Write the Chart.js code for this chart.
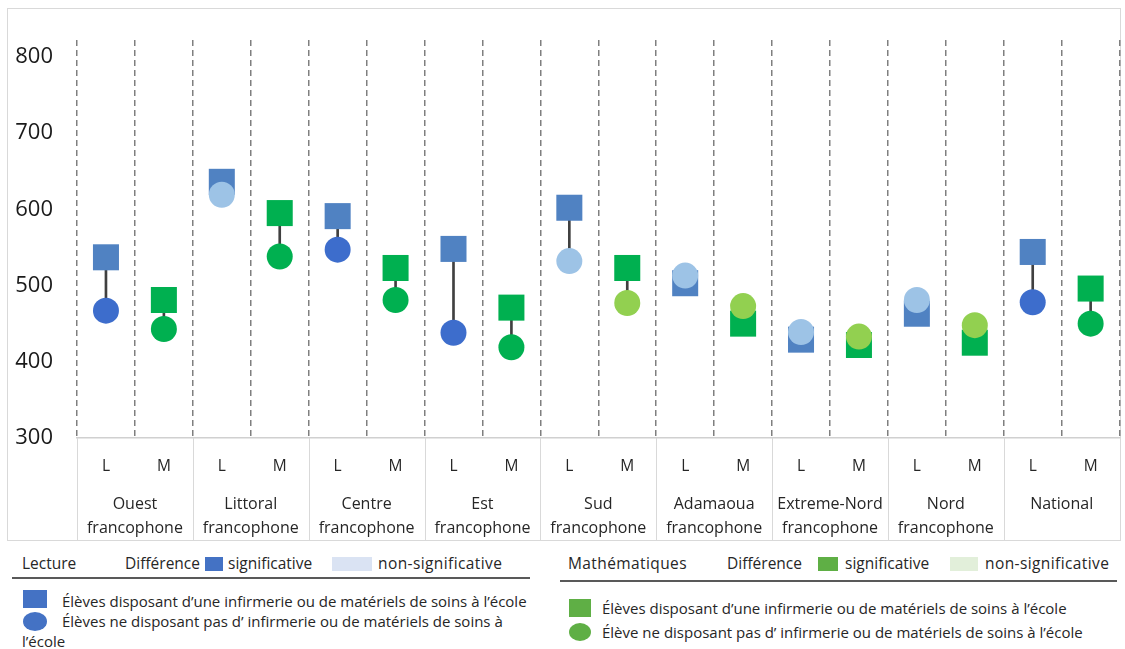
<!DOCTYPE html>
<html>
<head>
<meta charset="utf-8">
<script src="https://cdn.jsdelivr.net/npm/chart.js@4/dist/chart.umd.min.js"></script>
<style>
  html, body { margin: 0; padding: 0; background: #fff; }
  body { width: 1125px; height: 649px; position: relative; overflow: hidden; font-family: "Open Sans", sans-serif; color: #262626; }
  #frame { position: absolute; left: 7px; top: 8px; width: 1114px; height: 533px; border: 1px solid #d9d9d9; box-sizing: border-box; }
  #wrap { position: absolute; left: 0; top: 0; width: 1125px; height: 545px; overflow: hidden; }
  .lg { position: absolute; white-space: nowrap; font-size: 15px; line-height: 18px; color: #262626; }
  .h { font-size: 15.5px; top: 554px; }
  .sw { position: absolute; }
  .rule { position: absolute; height: 2px; background: #595959; }
</style>
</head>
<body>
<div id="frame"></div>
<div id="wrap"><canvas id="c" width="1138" height="545"></canvas></div>

<!-- Lecture legend -->
<div class="lg h" style="left:22px;">Lecture</div>
<div class="lg h" style="left:125px;">Différence</div>
<div class="sw" style="left:205px;top:557px;width:18px;height:14px;background:#4472C4;"></div>
<div class="lg h" style="left:228px;">significative</div>
<div class="sw" style="left:332px;top:557px;width:40px;height:14px;background:#DAE3F3;"></div>
<div class="lg h" style="left:378px;letter-spacing:0.4px;">non-significative</div>
<div class="rule" style="left:12px;top:577px;width:518px;"></div>
<div class="sw" style="left:23px;top:590px;width:24px;height:18px;background:#4472C4;"></div>
<div class="lg" style="left:62px;top:592px;">Élèves disposant d’une infirmerie ou de matériels de soins à l’école</div>
<div class="sw" style="left:23px;top:612px;width:24px;height:19px;border-radius:50%;background:#4472C4;"></div>
<div class="lg" style="left:62px;top:612px;">Élèves ne disposant pas d’ infirmerie ou de matériels de soins à</div>
<div class="lg" style="left:22px;top:632px;">l’école</div>

<!-- Mathématiques legend -->
<div class="lg h" style="left:568px;letter-spacing:0.4px;">Mathématiques</div>
<div class="lg h" style="left:727px;">Différence</div>
<div class="sw" style="left:818px;top:557px;width:20px;height:14px;background:#5FAF45;"></div>
<div class="lg h" style="left:845px;">significative</div>
<div class="sw" style="left:950px;top:557px;width:28px;height:14px;background:#E2EFDA;"></div>
<div class="lg h" style="left:985px;letter-spacing:0.4px;">non-significative</div>
<div class="rule" style="left:560px;top:580px;width:557px;"></div>
<div class="sw" style="left:569px;top:599px;width:22px;height:18px;background:#5FAF45;"></div>
<div class="lg" style="left:602px;top:599px;">Élèves disposant d’une infirmerie ou de matériels de soins à l’école</div>
<div class="sw" style="left:569px;top:623px;width:22px;height:18px;border-radius:50%;background:#5FAF45;"></div>
<div class="lg" style="left:602px;top:623px;">Élève ne disposant pas d’ infirmerie ou de matériels de soins à l’école</div>

<script>
// ---- data ----
const groups = [
  ['Ouest', 'francophone'], ['Littoral', 'francophone'], ['Centre', 'francophone'],
  ['Est', 'francophone'], ['Sud', 'francophone'], ['Adamaoua', 'francophone'],
  ['Extreme-Nord', 'francophone'], ['Nord', 'francophone'], ['National']
];
const subjects = ['L', 'M'];
const yTicks = [300, 400, 500, 600, 700, 800];

// Lecture (L)
const lectureWith    = [537, 636, 591, 548, 602, 503, 429, 463, 544];
const lectureWithout = [467, 619, 547, 438, 532, 513, 439, 481, 478];
const lectureSig     = [true, false, true, true, false, false, false, false, true];
// Mathématiques (M)
const mathWith    = [481, 595, 523, 471, 523, 450, 422, 425, 496];
const mathWithout = [443, 538, 481, 419, 477, 473, 433, 448, 450];
const mathSig     = [true, true, true, true, false, false, false, false, true];

// ---- styles ----
const C = {
  lSquare: '#5082C2', lCircSig: '#3D6DCC', lCircNon: '#9DC3E6',
  mSquare: '#00B050', mCircSig: '#00B050', mCircNon: '#92D050',
  connector: '#404040'
};

const slotLabels = groups.flatMap(() => subjects);
const squareData = groups.flatMap((g, i) => [lectureWith[i], mathWith[i]]);
const circleData = groups.flatMap((g, i) => [lectureWithout[i], mathWithout[i]]);
const connectorData = groups.flatMap((g, i) => [
  [Math.min(lectureWith[i], lectureWithout[i]), Math.max(lectureWith[i], lectureWithout[i])],
  [Math.min(mathWith[i], mathWithout[i]), Math.max(mathWith[i], mathWithout[i])]
]);
const squareColors = groups.flatMap(() => [C.lSquare, C.mSquare]);
const circleColors = groups.flatMap((g, i) => [
  lectureSig[i] ? C.lCircSig : C.lCircNon,
  mathSig[i] ? C.mCircSig : C.mCircNon
]);

const groupDividers = {
  id: 'groupDividers',
  afterDraw(chart) {
    const x = chart.scales.x, x2 = chart.scales.x2, ctx = chart.ctx;
    const half = (x.getPixelForValue(1) - x.getPixelForValue(0)) / 2;
    ctx.save();
    ctx.strokeStyle = '#d9d9d9';
    ctx.lineWidth = 1;
    for (let g = 0; g <= groups.length; g++) {
      const px = Math.round(x.getPixelForValue(g * 2) - half) + 0.5;
      ctx.beginPath();
      ctx.moveTo(px, chart.chartArea.bottom);
      ctx.lineTo(px, x2.bottom);
      ctx.stroke();
    }
    ctx.restore();
  }
};

new Chart(document.getElementById('c'), {
  data: {
    labels: slotLabels,
    datasets: [
      {
        type: 'line', label: 'sans', data: circleData, showLine: false, order: 0,
        pointStyle: 'circle', pointRadius: 13, pointHoverRadius: 13,
        pointBackgroundColor: circleColors, pointBorderWidth: 0, clip: false
      },
      {
        type: 'line', label: 'avec', data: squareData, showLine: false, order: 1,
        pointStyle: 'rect', pointRadius: 18.4, pointHoverRadius: 18.4,
        pointBackgroundColor: squareColors, pointBorderWidth: 0, clip: false
      },
      {
        type: 'bar', label: 'diff', data: connectorData, order: 2,
        backgroundColor: C.connector, barThickness: 2, borderWidth: 0, grouped: false
      }
    ]
  },
  options: {
    responsive: false,
    animation: false,
    events: [],
    layout: { padding: { top: 40, right: 5, bottom: 5, left: 0 } },
    plugins: { legend: { display: false }, tooltip: { enabled: false } },
    scales: {
      x: {
        type: 'category', position: 'bottom', offset: true,
        grid: { offset: true, color: '#7f7f7f', lineWidth: 1.5, drawTicks: false },
        border: { display: true, color: '#d0d0d0', width: 1.5, dash: [6, 4] },
        ticks: { color: '#262626', padding: 19, font: { family: 'Open Sans', size: 15.5 }, maxRotation: 0, autoSkip: false },
        afterFit(s) { s.height = 40; }
      },
      x2: {
        type: 'category', position: 'bottom', offset: true, labels: groups,
        grid: { display: false }, border: { display: false },
        ticks: { color: '#262626', padding: 6, font: { family: 'Open Sans', size: 16, lineHeight: 1.5 }, maxRotation: 0, autoSkip: false },
        afterFit(s) { s.height = 62; }
      },
      y: {
        min: 300, max: 822,
        afterBuildTicks(s) { s.ticks = yTicks.map(v => ({ value: v })); },
        grid: { display: false, drawTicks: false },
        border: { display: false },
        ticks: { color: '#1a1a1a', padding: 24, font: { family: 'Open Sans', size: 22 } },
        afterFit(s) { s.width = 77; }
      }
    }
  },
  plugins: [groupDividers]
});
</script>
</body>
</html>
